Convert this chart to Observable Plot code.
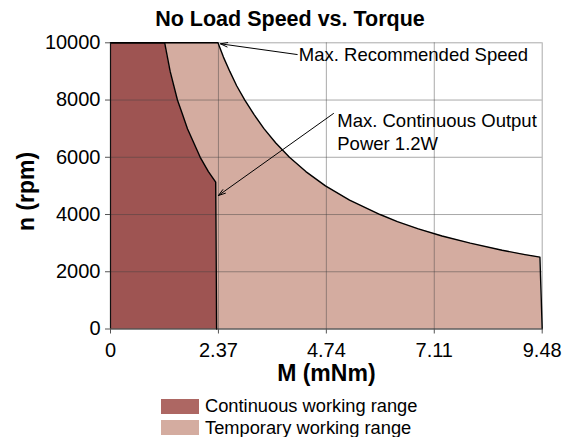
<!DOCTYPE html>
<html>
<head>
<meta charset="utf-8">
<script src="https://cdn.jsdelivr.net/npm/d3@7"></script>
<script src="https://cdn.jsdelivr.net/npm/@observablehq/plot@0.6"></script>
<style>
  body { margin: 0; background: #fff; font-family: "Liberation Sans", Arial, sans-serif; }
  #wrap { position: relative; width: 580px; height: 437px; overflow: hidden; }
  #title { position: absolute; left: 0; top: 0; width: 580px; text-align: center; font-weight: bold; font-size: 21.5px; line-height: 38px; color: #000; }
  #chart { position: absolute; left: 0; top: 0; }
  #legend { position: absolute; left: 161px; top: 395.5px; font-size: 18.3px; line-height: 20px; color: #000; }
  .row { display: flex; align-items: center; height: 21.5px; }
  .sw { width: 38px; height: 15px; margin-right: 6px; }
</style>
</head>
<body>
<div id="wrap">
  <div id="chart"></div>
  <div id="title"></div>
  <div id="legend"></div>
</div>
<script>
const titleText = "No Load Speed vs. Torque";
const xLabel = "M (mNm)";
const yLabel = "n (rpm)";
const xTicks = [0, 2.37, 4.74, 7.11, 9.48];
const xTickLabels = ["0", "2.37", "4.74", "7.11", "9.48"];
const yTicks = [0, 2000, 4000, 6000, 8000, 10000];

// Temporary working range boundary (torque mNm, speed rpm)
const tempM = [0, 2.36, 2.48, 2.62, 2.77, 2.95, 3.15, 3.37, 3.63, 3.93, 4.29, 4.72, 5.25, 5.92, 6.3, 6.76, 7.28, 7.9, 8.6, 9.1, 9.43, 9.48];
const tempN = [10000, 10000, 9500, 9000, 8500, 8000, 7500, 7000, 6500, 6000, 5500, 5000, 4500, 4000, 3750, 3500, 3250, 3000, 2750, 2600, 2510, 0];
// Continuous working range boundary
const contM = [0, 1.19, 1.25, 1.31, 1.39, 1.47, 1.58, 1.69, 1.83, 1.97, 2.15, 2.31, 2.33];
const contN = [10000, 10000, 9500, 9000, 8500, 8000, 7500, 7000, 6500, 6000, 5500, 5130, 0];

const seriesNames = ["Continuous working range", "Temporary working range"];
const fillColors = ["#9e5452", "#d4aca0"];
const legendColors = ["#ad6763", "#d4aca0"];

// Annotations
const annoText = ["Max. Recommended Speed", "Max. Continuous Output", "Power 1.2W"];
const annoX = [4.135, 4.98, 4.98];
const annoY = [9588, 7257, 6478];
const arrowX1 = [4.10, 4.897];
const arrowY1 = [9590, 7530];
const arrowX2 = [2.415, 2.37];
const arrowY2 = [9965, 4665];

const temp = tempM.map((m, i) => ({m, n: tempN[i]}));
const cont = contM.map((m, i) => ({m, n: contN[i]}));
const annos = annoText.map((t, i) => ({t, x: annoX[i], y: annoY[i]}));
const arrows = arrowX1.map((x1, i) => ({x1, y1: arrowY1[i], x2: arrowX2[i], y2: arrowY2[i]}));

const H = 392;
const plot = Plot.plot({
  width: 580,
  height: H,
  marginLeft: 110,
  marginRight: 38.3,
  marginTop: 42.3,
  marginBottom: H - 328.5,
  style: { fontFamily: "Liberation Sans, Arial, sans-serif", background: "#fff", color: "#000" },
  x: { domain: [0, 9.48] },
  y: { domain: [0, 10000] },
  marks: [
    Plot.areaY(temp, { x: "m", y: "n", y1: 0, fill: fillColors[1] }),
    Plot.areaY(cont, { x: "m", y: "n", y1: 0, fill: fillColors[0] }),
    Plot.gridX(xTicks.slice(1), { stroke: "#404040", strokeOpacity: 0.45, strokeWidth: 1 }),
    Plot.gridY(yTicks.slice(1), { stroke: "#404040", strokeOpacity: 0.45, strokeWidth: 1 }),
    Plot.line(temp, { x: "m", y: "n", stroke: "#000", strokeWidth: 1.4 }),
    Plot.line(cont, { x: "m", y: "n", stroke: "#000", strokeWidth: 1.4 }),
    Plot.ruleX([0], { stroke: "#111", strokeWidth: 1.2 }),
    Plot.ruleY([0], { stroke: "#111", strokeWidth: 1.2 }),
    Plot.axisX(xTicks, {
      tickFormat: (d, i) => xTickLabels[i], tickSize: 5, tickPadding: 9,
      fontSize: 20, stroke: "#555", label: null
    }),
    Plot.axisY(yTicks, {
      tickFormat: d => String(d), tickSize: 5, tickPadding: 5,
      fontSize: 20, stroke: "#555", label: null
    }),
    Plot.text([xLabel], { frameAnchor: "bottom", lineAnchor: "middle", dy: 45, fontSize: 23, fontWeight: "bold", fill: "#000" }),
    Plot.text([yLabel], { frameAnchor: "left", textAnchor: "middle", lineAnchor: "middle", rotate: -90, dx: -84, dy: 5.6, fontSize: 23, fontWeight: "bold", fill: "#000" }),
    Plot.arrow(arrows, { x1: "x1", y1: "y1", x2: "x2", y2: "y2", stroke: "#000", strokeWidth: 1, headLength: 11, headAngle: 35 }),
    Plot.text(annos, { x: "x", y: "y", text: "t", textAnchor: "start", fontSize: 18.5, fill: "#000" })
  ]
});
document.getElementById("chart").appendChild(plot);
document.getElementById("title").textContent = titleText;
const leg = document.getElementById("legend");
seriesNames.forEach((s, i) => {
  const r = document.createElement("div");
  r.className = "row";
  r.innerHTML = `<div class="sw" style="background:${legendColors[i]}"></div><span>${s}</span>`;
  leg.appendChild(r);
});
</script>
</body>
</html>
